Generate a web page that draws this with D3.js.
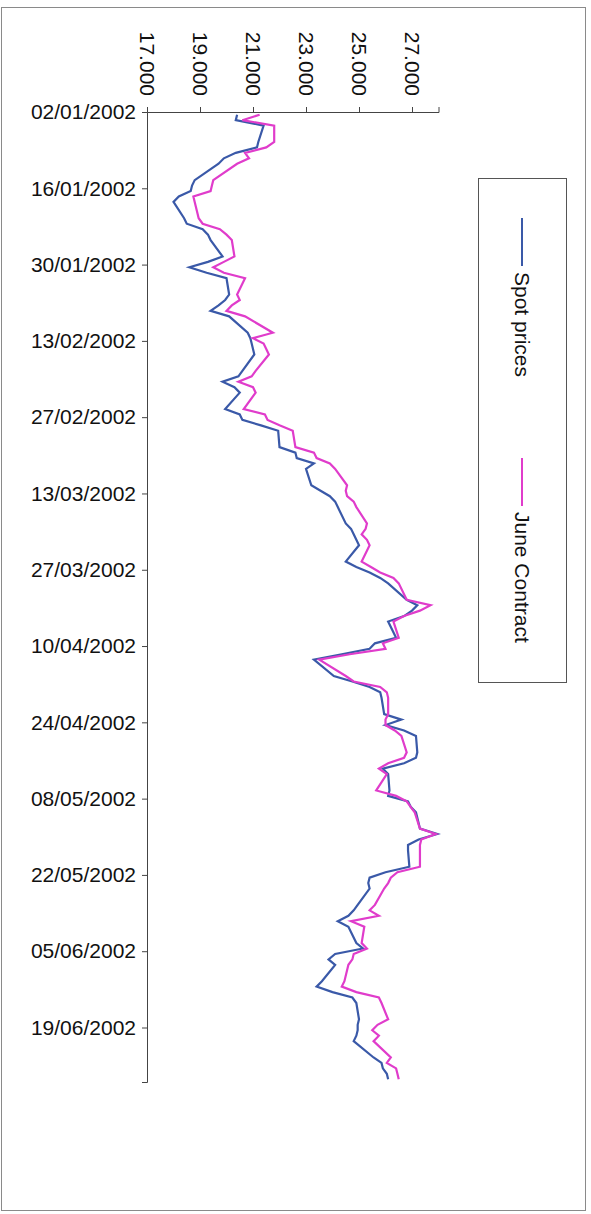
<!DOCTYPE html>
<html>
<head>
<meta charset="utf-8">
<script src="https://cdn.jsdelivr.net/npm/d3@7"></script>
<style>
  body { margin: 0; background: #ffffff; }
  svg { display: block; font-family: "Liberation Sans", Arial, sans-serif; }
</style>
</head>
<body>
<svg id="chart" width="591" height="1214"></svg>
<script>
// Daily closing prices, Jan–Jun 2002 (one value per trading day, Mon–Fri)
const seriesNames = ["Spot prices", "June Contract"];

const spotPrices = [
  20.4, 20.35, 21.4,
  21.2, 21.15, 20.35, 19.9, 19.7,
  18.8, 18.7, 18.65, 18.2, 18.0,
  18.4, 18.5, 19.1, 19.3, 19.4,
  19.85, 19.3, 18.6, 19.25, 20.0,
  20.1, 19.95, 19.7, 19.4, 20.1,
  20.8, 20.9, 20.95, 21.0, 21.05,
  20.6, 20.45, 19.85, 20.3, 20.5,
  19.95, 20.5, 20.6, 21.3, 21.95,
  22.0, 22.6, 22.65, 23.3, 23.0,
  23.2, 23.55, 23.9, 24.1, 24.2,
  24.5, 24.7, 24.8, 24.9, 25.0,
  24.5, 24.9, 25.4, 25.8, 26.1,
  26.8, 27.2, 27.0, 26.7, 26.1,
  26.4, 25.6, 25.4, 24.35, 23.3,
  24.05, 24.75, 25.4, 25.8, 25.85,
  25.95, 26.6, 26.0, 26.7, 27.15,
  27.2, 27.15, 26.7, 25.9, 26.1,
  26.15, 26.1, 26.85, 26.95, 27.15,
  27.3, 27.95, 27.25, 26.85, 26.85,
  26.9, 26.0, 25.4, 25.35, 25.4,
  24.95, 24.8, 24.6, 24.2, 24.6,
  24.9, 25.15, 24.1, 23.85, 24.1,
  23.6, 23.4, 24.0, 24.75, 24.9,
  25.0, 24.95, 24.95, 24.9, 24.8,
  25.55, 25.85, 25.9, 26.05, 26.1
];

const juneContract = [
  21.25, 20.6, 21.8,
  21.8, 21.5, 20.7, 20.85, 20.4,
  19.5, 19.45, 19.4, 18.75, 18.8,
  18.95, 19.1, 19.75, 20.0, 20.2,
  20.3, 19.9, 19.5, 19.9, 20.7,
  20.4, 20.5, 20.2, 20.0, 20.7,
  21.75, 21.0, 21.4, 21.5, 21.6,
  21.1, 20.95, 20.45, 21.0, 21.1,
  20.65, 21.45, 21.55, 22.0, 22.5,
  22.6, 23.3, 23.4, 23.9, 24.1,
  24.55, 24.5, 24.55, 24.8, 24.9,
  25.3, 25.25, 25.1, 25.3, 25.4,
  25.1, 25.45, 25.8, 26.3, 26.5,
  26.8, 27.7, 27.3, 26.7, 26.3,
  26.5, 25.9, 26.0, 24.65, 23.5,
  24.5, 24.8, 25.8, 26.05, 26.1,
  26.1, 26.0, 26.0, 26.35, 26.6,
  26.8, 26.7, 26.1, 25.75, 26.05,
  25.65, 26.4, 26.8, 26.95, 27.1,
  27.3, 27.9, 27.35, 27.3, 27.3,
  27.3, 26.45, 26.2, 26.1, 25.95,
  25.6, 25.4, 25.75, 24.7, 25.2,
  25.1, 25.3, 24.8, 24.75, 24.6,
  24.45, 24.35, 24.9, 25.75, 25.85,
  26.1, 25.7, 25.5, 25.75, 25.55,
  26.2, 26.05, 26.4, 26.45, 26.5
];

const valueTicks = [17, 19, 21, 23, 25, 27];
const valueDomain = [17, 28];
const dateTickLabels = [
  "02/01/2002", "16/01/2002", "30/01/2002", "13/02/2002", "27/02/2002",
  "13/03/2002", "27/03/2002", "10/04/2002", "24/04/2002", "08/05/2002",
  "22/05/2002", "05/06/2002", "19/06/2002"
];
const dateDomainLabels = ["02/01/2002", "29/06/2002"];

const seriesColors = ["#3a59a8", "#e03ccb"];

// ---- setup ----
const parseDay = d3.timeParse("%d/%m/%Y");
const fmtDay = d3.timeFormat("%d/%m/%Y");
const dateStart = parseDay(dateDomainLabels[0]);
const dateEnd = parseDay(dateDomainLabels[1]);

// trading days: weekdays of the period
const tradingDays = d3.timeDay.range(dateStart, dateEnd)
  .filter(d => d.getDay() !== 0 && d.getDay() !== 6);

const svg = d3.select("#chart");

// page frame
svg.append("rect")
  .attr("x", 1.5).attr("y", 7.5)
  .attr("width", 584).attr("height", 1203)
  .attr("fill", "none").attr("stroke", "#8a8a8a").attr("stroke-width", 1);

// dates run down the page, prices run left to right
const y = d3.scaleTime().domain([dateStart, dateEnd]).range([112, 1082]);
const x = d3.scaleLinear().domain(valueDomain).range([147, 438.5]);

// each day's value sits in the middle of its day slot
const midDay = d => d3.timeHour.offset(d, 12);

const seriesData = [spotPrices, juneContract].map(vals =>
  vals.map((v, i) => ({ date: tradingDays[i], value: v })));

const line = d3.line()
  .x(d => x(d.value))
  .y(d => y(midDay(d.date)));

const fontSize = 21;

// value axis (top)
const xAxis = d3.axisTop(x)
  .tickValues(valueTicks)
  .tickSize(5)
  .tickPadding(8)
  .tickFormat(d3.format(".3f"));

const gx = svg.append("g")
  .attr("transform", "translate(0,112)")
  .call(xAxis);
gx.select(".domain").attr("stroke", "#444").attr("stroke-width", 1);
gx.selectAll(".tick line").attr("stroke", "#444");
gx.selectAll(".tick text")
  .attr("fill", "#111")
  .attr("font-size", fontSize)
  .attr("text-anchor", "end")
  .attr("transform", "rotate(90)")
  .attr("x", -16)
  .attr("y", 0)
  .attr("dy", "0.35em");

// date axis (left)
const yAxis = d3.axisLeft(y)
  .tickValues(dateTickLabels.map(parseDay))
  .tickSize(5)
  .tickPadding(6)
  .tickFormat(fmtDay);

const gy = svg.append("g")
  .attr("transform", "translate(147,0)")
  .call(yAxis);
gy.select(".domain").attr("stroke", "#444").attr("stroke-width", 1);
gy.selectAll(".tick line").attr("stroke", "#444");
gy.selectAll(".tick text")
  .attr("fill", "#111")
  .attr("font-size", fontSize);

// series lines
svg.append("g")
  .selectAll("path")
  .data(seriesData)
  .join("path")
  .attr("d", line)
  .attr("fill", "none")
  .attr("stroke", (d, i) => seriesColors[i])
  .attr("stroke-width", 2.2)
  .attr("stroke-linejoin", "miter");

// legend
const legend = svg.append("g");
legend.append("rect")
  .attr("x", 478.5).attr("y", 178.5)
  .attr("width", 88).attr("height", 504)
  .attr("fill", "none").attr("stroke", "#555").attr("stroke-width", 1);

const legendItems = [
  { name: seriesNames[0], color: seriesColors[0], y0: 218 },
  { name: seriesNames[1], color: seriesColors[1], y0: 458 }
];
const legendX = 522;
legend.selectAll("line.key")
  .data(legendItems)
  .join("line")
  .attr("class", "key")
  .attr("x1", legendX).attr("x2", legendX)
  .attr("y1", d => d.y0).attr("y2", d => d.y0 + 48)
  .attr("stroke", d => d.color).attr("stroke-width", 2);

legend.selectAll("text")
  .data(legendItems)
  .join("text")
  .attr("transform", d => `translate(${legendX},${d.y0 + 54}) rotate(90)`)
  .attr("dy", "0.35em")
  .attr("font-size", fontSize)
  .attr("fill", "#111")
  .text(d => d.name);
</script>
</body>
</html>
